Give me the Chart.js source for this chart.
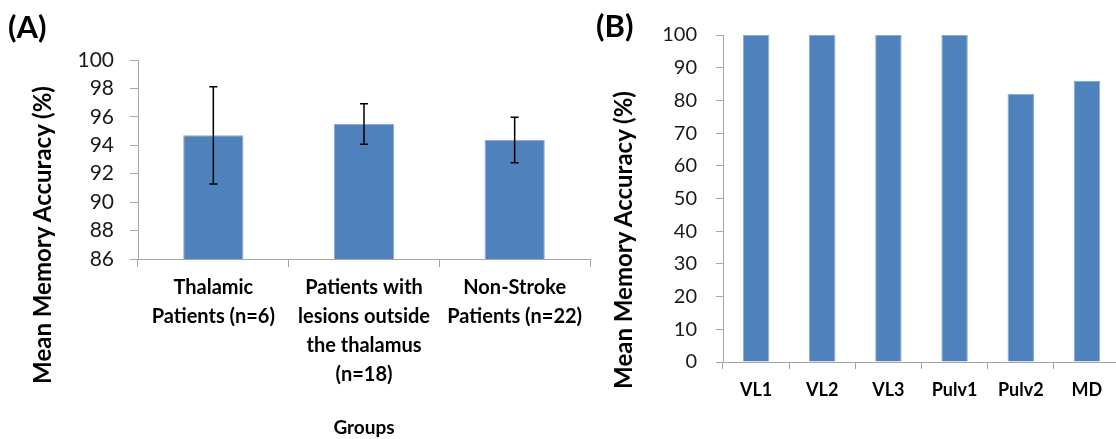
<!DOCTYPE html>
<html>
<head>
<meta charset="utf-8">
<script src="https://cdn.jsdelivr.net/npm/chart.js@4.4.1/dist/chart.umd.min.js"></script>
<style>
  html, body { margin:0; padding:0; background:#fff; overflow:hidden; width:1116px; height:439px; position:relative; }
  canvas { position:absolute; top:0; }
  #chartA { left:0; }
  #chartB { left:600px; }
  .lbl { position:absolute; font-family:Lato, sans-serif; font-weight:bold; color:#000; white-space:nowrap; line-height:1; }
  .panel { font-size:31px; }
  .ytitle { font-size:24px; transform:translate(-50%, -50%) rotate(-90deg); }
</style>
</head>
<body>
<canvas id="chartA" width="600" height="439"></canvas>
<canvas id="chartB" width="520" height="439"></canvas>
<div class="lbl panel" style="left:8px; top:11px;">(A)</div>
<div class="lbl panel" style="left:596px; top:10px;">(B)</div>
<div class="lbl ytitle" style="left:42px; top:235px;">Mean Memory Accuracy (%)</div>
<div class="lbl ytitle" style="left:623px; top:240px;">Mean Memory Accuracy (%)</div>
<script>
// panel A data
const groupLabels = [
  ['Thalamic', 'Patients (n=6)'],
  ['Patients with', 'lesions outside', 'the thalamus', '(n=18)'],
  ['Non-Stroke', 'Patients (n=22)']
];
const groupMeans = [94.7, 95.5, 94.38];
const groupErr = [3.42, 1.42, 1.6];

// panel B data
const nucleiLabels = ['VL1', 'VL2', 'VL3', 'Pulv1', 'Pulv2', 'MD'];
const nucleiValues = [100, 100, 100, 100, 82, 86];

const barBlue = '#4f81bd';
const axisGray = '#a6a6a6';

Chart.defaults.font.family = 'Lato, sans-serif';

// draws +/- error whiskers on top of the bars
const errorBars = {
  id: 'errorBars',
  afterDatasetsDraw(chart, args, opts) {
    if (!opts.err) return;
    const ctx = chart.ctx;
    const y = chart.scales.y;
    const vals = chart.data.datasets[0].data;
    const meta = chart.getDatasetMeta(0);
    ctx.save();
    ctx.strokeStyle = '#000';
    ctx.lineWidth = 1.5;
    meta.data.forEach((bar, i) => {
      const top = y.getPixelForValue(vals[i] + opts.err[i]);
      const bot = y.getPixelForValue(vals[i] - opts.err[i]);
      ctx.beginPath();
      ctx.moveTo(bar.x, top); ctx.lineTo(bar.x, bot);
      ctx.moveTo(bar.x - 4, top); ctx.lineTo(bar.x + 4, top);
      ctx.moveTo(bar.x - 4, bot); ctx.lineTo(bar.x + 4, bot);
      ctx.stroke();
    });
    ctx.restore();
  }
};

new Chart(document.getElementById('chartA'), {
  type: 'bar',
  data: {
    labels: groupLabels,
    datasets: [{
      data: groupMeans,
      backgroundColor: barBlue,
      borderColor: '#89abd6',
      borderWidth: 1,
      categoryPercentage: 1,
      barPercentage: 0.4
    }]
  },
  options: {
    responsive: false,
    animation: false,
    layout: { padding: { top: 60, left: 0, right: 10, bottom: 0 } },
    plugins: { legend: { display: false }, tooltip: { enabled: false }, errorBars: { err: groupErr } },
    scales: {
      x: {
        grid: { drawOnChartArea: false, tickLength: 8, color: axisGray },
        border: { color: axisGray },
        ticks: { color: '#000', font: { size: 20, weight: 'bold', lineHeight: 1.45 }, padding: 6, maxRotation: 0, autoSkip: false },
        title: { display: true, text: 'Groups', color: '#000', font: { size: 19, weight: 'bold' }, padding: 0 },
        afterFit(s) { s.height = 180; }
      },
      y: {
        min: 86,
        max: 100,
        grid: { drawOnChartArea: false, tickLength: 8, color: axisGray },
        border: { color: axisGray },
        ticks: { stepSize: 2, color: '#1a1a1a', font: { size: 21 }, padding: 16 },
        afterFit(s) { s.width = 138; }
      }
    }
  },
  plugins: [errorBars]
});

new Chart(document.getElementById('chartB'), {
  type: 'bar',
  data: {
    labels: nucleiLabels,
    datasets: [{
      data: nucleiValues,
      backgroundColor: barBlue,
      borderColor: '#89abd6',
      borderWidth: 1,
      categoryPercentage: 1,
      barPercentage: 0.4
    }]
  },
  options: {
    responsive: false,
    animation: false,
    layout: { padding: { top: 35, left: 0, right: 0, bottom: 0 } },
    plugins: { legend: { display: false }, tooltip: { enabled: false } },
    scales: {
      x: {
        grid: { drawOnChartArea: false, tickLength: 7, color: axisGray },
        border: { color: axisGray },
        ticks: { color: '#000', font: { size: 18, weight: 'bold' }, padding: 10, maxRotation: 0, autoSkip: false },
        afterFit(s) { s.height = 77; }
      },
      y: {
        min: 0,
        max: 100,
        grid: { drawOnChartArea: false, tickLength: 7, color: axisGray },
        border: { color: axisGray },
        ticks: { stepSize: 10, color: '#1a1a1a', font: { size: 20 }, padding: 19 },
        afterFit(s) { s.width = 123; }
      }
    }
  }
});
</script>
</body>
</html>
